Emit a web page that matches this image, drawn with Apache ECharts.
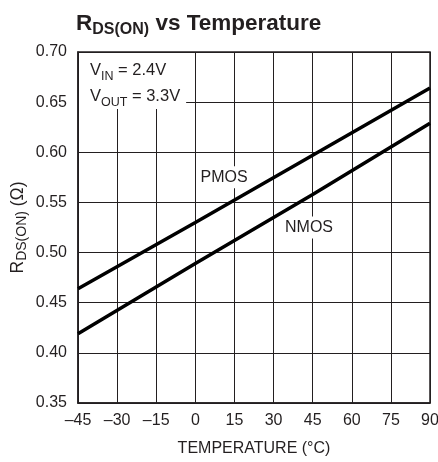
<!DOCTYPE html>
<html><head><meta charset="utf-8">
<script src="https://cdn.jsdelivr.net/npm/echarts@6/dist/echarts.min.js"></script>
<style>html,body{margin:0;padding:0;background:#fff}#c{width:438px;height:462px}</style>
</head><body><div id="c"></div>
<script>
var temps = [-45, 0, 45, 90];
var pmos = [0.464, 0.530, 0.597, 0.664];
var nmos = [0.419, 0.489, 0.558, 0.629];
var xTicks = [-45, -30, -15, 0, 15, 30, 45, 60, 75, 90];
var yTicks = [0.35, 0.40, 0.45, 0.50, 0.55, 0.60, 0.65, 0.70];
var labelPts = [{name: 'PMOS', t: 11, v: 0.575}, {name: 'NMOS', t: 43.6, v: 0.525}];

var FONT = "'Liberation Sans', Arial, sans-serif";
var INK = '#231f20';
function pair(xs, ys) { return xs.map(function (x, i) { return [x, ys[i]]; }); }

var chart = echarts.init(document.getElementById('c'), null, {renderer: 'canvas'});
chart.setOption({
  animation: false,
  backgroundColor: '#fff',
  title: {
    text: 'R{sub|DS(ON)} vs Temperature',
    left: 71, top: 5,
    textStyle: {
      fontFamily: FONT, fontSize: 22.5, fontWeight: 'bold', color: INK, lineHeight: 28,
      rich: {
        sub: {fontFamily: FONT, fontSize: 16, fontWeight: 'bold', color: INK, lineHeight: 16, padding: [8, 0, 0, 0], verticalAlign: 'bottom'}
      }
    }
  },
  grid: {left: 78, right: 8, top: 52, bottom: 59, outerBoundsMode: 'none', containLabel: false,
    show: true, borderColor: INK, borderWidth: 1.5, backgroundColor: 'transparent'},
  xAxis: {
    type: 'value', min: xTicks[0], max: xTicks[xTicks.length - 1], interval: 15,
    name: 'TEMPERATURE (°C)', nameLocation: 'middle', nameGap: 38, nameMoveOverlap: false,
    nameTextStyle: {fontFamily: FONT, fontSize: 16, color: INK},
    axisLine: {show: true, onZero: false, lineStyle: {color: INK, width: 1.5}},
    axisTick: {show: false},
    axisLabel: {fontFamily: FONT, fontSize: 16, color: INK, margin: 10,
      formatter: function (v) { return String(v).replace('-', '\u2013'); }},
    splitLine: {show: true, lineStyle: {color: INK, width: 1}}
  },
  yAxis: {
    type: 'value', min: yTicks[0], max: yTicks[yTicks.length - 1], interval: 0.05,
    name: 'R{sub|DS(ON)} (Ω)', nameLocation: 'middle', nameGap: 49, nameRotate: 90, nameMoveOverlap: false,
    nameTextStyle: {fontFamily: FONT, fontSize: 17.5, color: INK, lineHeight: 22,
      rich: {sub: {fontFamily: FONT, fontSize: 14, color: INK, lineHeight: 14, padding: [6, 0, 0, 0], verticalAlign: 'bottom'}}},
    axisLine: {show: true, onZero: false, lineStyle: {color: INK, width: 1.5}},
    axisTick: {show: false},
    axisLabel: {fontFamily: FONT, fontSize: 16, color: INK, margin: 11,
      formatter: function (v) { return v.toFixed(2); }},
    splitLine: {show: true, lineStyle: {color: INK, width: 1}}
  },
  series: [
    {type: 'line', data: pair(temps, pmos), symbol: 'none', lineStyle: {color: '#000', width: 3.5}, z: 3},
    {type: 'line', data: pair(temps, nmos), symbol: 'none', lineStyle: {color: '#000', width: 3.5}, z: 3},
    {type: 'scatter', symbolSize: 0, z: 4, itemStyle: {opacity: 1},
      data: labelPts.map(function (p) { return {value: [p.t, p.v], name: p.name}; }),
      label: {show: true, position: 'inside', formatter: '{b}', fontFamily: FONT, fontSize: 16, color: INK, opacity: 1,
        backgroundColor: '#fff', padding: [3, 3, 3, 3]}}
  ],
  graphic: [{
    type: 'text', left: 79, top: 53, z: 10,
    style: {
      text: 'V{sub|IN} = 2.4V\nV{sub|OUT} = 3.3V',
      font: '16.5px ' + FONT, fill: INK, backgroundColor: '#fff',
      padding: [4, 6, 0, 11], lineHeight: 26,
      rich: {sub: {fontSize: 12.5, fontFamily: FONT, fill: INK, lineHeight: 12, padding: [8, 0, 0, 0], verticalAlign: 'bottom'}}
    }
  }]
});
</script></body></html>
